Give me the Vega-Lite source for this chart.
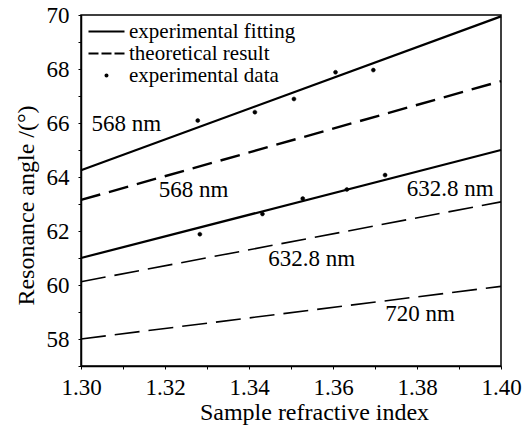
{
  "$schema": "https://vega.github.io/schema/vega-lite/v6.json",
  "width": 420,
  "height": 351,
  "autosize": {"type": "none"},
  "padding": {"left": 81, "top": 15, "right": 22, "bottom": 68},
  "background": "white",
  "config": {
    "view": {"stroke": "black", "strokeWidth": 1.5},
    "font": "'Liberation Serif', 'Times New Roman', 'DejaVu Serif', serif"
  },
  "datasets": {
    "lines": [
      {"series": "568 fit", "kind": "fit", "x": 1.30, "y": 64.25},
      {"series": "568 fit", "kind": "fit", "x": 1.40, "y": 69.95},
      {"series": "632.8 fit", "kind": "fit", "x": 1.30, "y": 61.0},
      {"series": "632.8 fit", "kind": "fit", "x": 1.40, "y": 65.0},
      {"series": "568 theo", "kind": "theo", "x": 1.30, "y": 63.15},
      {"series": "568 theo", "kind": "theo", "x": 1.40, "y": 67.55},
      {"series": "632.8 theo", "kind": "theo", "x": 1.30, "y": 60.12},
      {"series": "632.8 theo", "kind": "theo", "x": 1.40, "y": 63.08},
      {"series": "720 theo", "kind": "theo", "x": 1.30, "y": 58.0},
      {"series": "720 theo", "kind": "theo", "x": 1.40, "y": 59.95}
    ],
    "points": [
      {"type": "experimental data", "x": 1.3278, "y": 66.09},
      {"type": "experimental data", "x": 1.3414, "y": 66.40},
      {"type": "experimental data", "x": 1.3507, "y": 66.89},
      {"type": "experimental data", "x": 1.3606, "y": 67.88},
      {"type": "experimental data", "x": 1.3696, "y": 67.96},
      {"type": "experimental data", "x": 1.3283, "y": 61.88},
      {"type": "experimental data", "x": 1.3432, "y": 62.63},
      {"type": "experimental data", "x": 1.3528, "y": 63.20},
      {"type": "experimental data", "x": 1.3633, "y": 63.54},
      {"type": "experimental data", "x": 1.3724, "y": 64.07}
    ],
    "labels": [
      {"label": "568 nm", "x": 1.3108, "y": 65.96},
      {"label": "568 nm", "x": 1.3268, "y": 63.52},
      {"label": "632.8 nm", "x": 1.3879, "y": 63.56},
      {"label": "632.8 nm", "x": 1.3549, "y": 60.96},
      {"label": "720 nm", "x": 1.3807, "y": 58.94}
    ]
  },
  "encoding": {
    "x": {
      "field": "x",
      "type": "quantitative",
      "scale": {"domain": [1.30, 1.40], "nice": false, "zero": false},
      "axis": {
        "title": "Sample refractive index",
        "titleFont": "'Liberation Serif', 'Times New Roman', 'DejaVu Serif', serif",
        "titleFontSize": 24,
        "titleFontWeight": "normal",
        "titleColor": "black",
        "titleX": 233,
        "titleY": 53,
        "titleBaseline": "alphabetic",
        "titleAlign": "center",
        "values": [1.30, 1.31, 1.32, 1.33, 1.34, 1.35, 1.36, 1.37, 1.38, 1.39, 1.40],
        "labelExpr": "round(datum.value*100) % 2 == 0 ? format(datum.value, '.2f') : ''",
        "labelFont": "'Liberation Serif', 'Times New Roman', 'DejaVu Serif', serif",
        "labelFontSize": 23,
        "labelColor": "black",
        "labelPadding": 7,
        "labelFlush": false,
        "labelOverlap": false,
        "grid": false,
        "tickSize": 3,
        "tickColor": "black",
        "domainColor": "black",
        "domainWidth": 1.5
      }
    },
    "y": {
      "field": "y",
      "type": "quantitative",
      "scale": {"domain": [57, 70], "nice": false, "zero": false},
      "axis": {
        "title": "Resonance angle /(°)",
        "titleFont": "'Liberation Serif', 'Times New Roman', 'DejaVu Serif', serif",
        "titleFontSize": 24,
        "titleFontWeight": "normal",
        "titleColor": "black",
        "titleX": -48,
        "titleY": 190,
        "titleBaseline": "alphabetic",
        "titleAlign": "center",
        "titleAngle": 270,
        "values": [57, 58, 59, 60, 61, 62, 63, 64, 65, 66, 67, 68, 69, 70],
        "labelExpr": "datum.value % 2 == 0 ? datum.label : ''",
        "labelFont": "'Liberation Serif', 'Times New Roman', 'DejaVu Serif', serif",
        "labelFontSize": 23,
        "labelColor": "black",
        "labelPadding": 9,
        "labelFlush": false,
        "labelOverlap": false,
        "grid": false,
        "tickSize": 3,
        "tickColor": "black",
        "domainColor": "black",
        "domainWidth": 1.5
      }
    }
  },
  "layer": [
    {
      "data": {"name": "lines"},
      "transform": [{"filter": "datum.kind == 'fit'"}],
      "mark": {"type": "line", "color": "black", "strokeWidth": 2.2},
      "encoding": {"detail": {"field": "series"}}
    },
    {
      "data": {"name": "lines"},
      "transform": [{"filter": "datum.series == '568 theo'"}],
      "mark": {"type": "line", "color": "black", "strokeWidth": 2.4, "strokeDash": [20, 9]},
      "encoding": {"detail": {"field": "series"}}
    },
    {
      "data": {"name": "lines"},
      "transform": [{"filter": "datum.kind == 'theo' && datum.series != '568 theo'"}],
      "mark": {"type": "line", "color": "black", "strokeWidth": 1.6, "strokeDash": [25, 9]},
      "encoding": {"detail": {"field": "series"}}
    },
    {
      "data": {"name": "points"},
      "mark": {"type": "point", "filled": true, "color": "black", "stroke": "black", "strokeWidth": 0.5, "size": 100, "opacity": 1},
      "encoding": {
        "shape": {
          "field": "type",
          "type": "nominal",
          "scale": {
            "domain": ["experimental fitting", "theoretical result", "experimental data"],
            "range": [
              "M-3.6,-0.2L3.6,-0.2L3.6,0.2L-3.6,0.2Z",
              "M-3.6,-0.2L-1.6,-0.2L-1.6,0.2L-3.6,0.2ZM-1,-0.2L1,-0.2L1,0.2L-1,0.2ZM1.6,-0.2L3.6,-0.2L3.6,0.2L1.6,0.2Z",
              "M-0.4,0A0.4,0.4 0 1,0 0.4,0A0.4,0.4 0 1,0 -0.4,0Z"
            ]
          },
          "legend": {
            "orient": "none",
            "legendX": 2,
            "legendY": 6,
            "title": null,
            "padding": 0,
            "rowPadding": 0,
            "symbolSize": 100,
            "symbolStrokeWidth": 0.5,
            "symbolStrokeColor": "black",
            "symbolFillColor": "black",
            "symbolOpacity": 1,
            "symbolOffset": 13,
            "labelOffset": 12,
            "labelFont": "'Liberation Serif', 'Times New Roman', 'DejaVu Serif', serif",
            "labelFontSize": 21,
            "labelColor": "black",
            "labelBaseline": "middle",
            "labelLimit": 400,
            "encode": {
              "symbols": {
                "update": {
                  "stroke": {"value": "black"},
                  "strokeWidth": {"value": 0.5},
                  "fill": {"value": "black"},
                  "opacity": {"value": 1}
                }
              }
            }
          }
        }
      }
    },
    {
      "data": {"name": "labels"},
      "mark": {"type": "text", "font": "'Liberation Serif', 'Times New Roman', 'DejaVu Serif', serif", "fontSize": 23, "color": "black", "align": "center", "baseline": "middle"},
      "encoding": {"text": {"field": "label"}}
    }
  ]
}
